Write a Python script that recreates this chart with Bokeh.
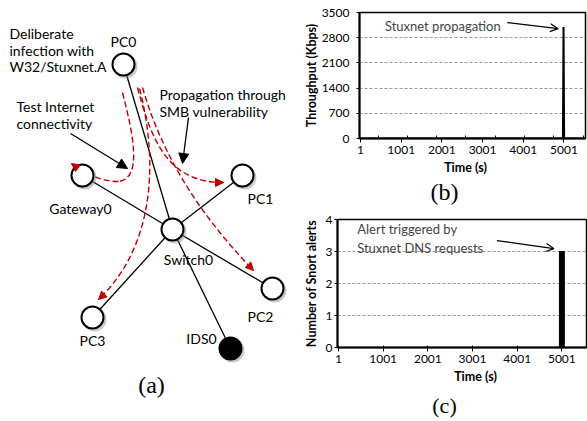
from bokeh.plotting import figure
from bokeh.layouts import row, column
from bokeh.models import Range1d, Label, Arrow, NormalHead, OpenHead, FixedTicker
from bokeh.core.properties import value
from bokeh.embed import file_html
from bokeh.resources import INLINE

FONT = "Lato"
SERIF = "Liberation Serif"
RED = "#C00000"

# ---------------- (a) network topology ----------------
node_names = ["PC0", "Gateway0", "PC1", "Switch0", "PC2", "PC3", "IDS0"]
node_x = [123, 82, 242, 172, 272, 92, 230]
node_y = [64, 175, 175, 229, 288, 317, 348]
node_fill = ["white", "white", "white", "white", "white", "white", "black"]
edges = [("Switch0", "PC0"), ("Switch0", "Gateway0"), ("Switch0", "PC1"),
         ("Switch0", "PC2"), ("Switch0", "PC3"), ("Switch0", "IDS0")]

label_x = [123, 80, 260, 188, 260, 92, 201]
label_y = [41, 208, 198, 259, 316, 340, 338]

# infection paths (cubic bezier: start, control1, control2, end)
path_names = ["to PC1", "to PC2", "to PC3", "to Gateway0 (part 1)"]
path_x0 = [137, 142, 139, 122]
path_y0 = [87, 87, 88, 92]
path_cx0 = [152, 160, 160, 133]
path_cy0 = [145, 150, 170, 135]
path_cx1 = [170, 195, 150, 142]
path_cy1 = [182, 210, 250, 178]
path_x1 = [223, 253, 98, 118]
path_y1 = [182, 270, 299, 181]
# gateway path tail (quadratic)
gw_x0, gw_y0, gw_cx, gw_cy, gw_x1, gw_y1 = 118, 181, 95, 181, 71, 163

notes_a = [
    (["Deliberate", "infection with", "W32/Stuxnet.A"], 9, 33),
    (["Test Internet", "connectivity"], 16, 106),
    (["Propagation through", "SMB vulnerability"], 159, 94),
]
note_arrows = [((70, 133), (127, 168)), ((188, 117), (182, 163))]

# ---------------- (b) throughput ----------------
time_b = [1, 4975, 4990, 5005, 5530]
throughput_kbps = [0, 0, 3100, 0, 0]
b_ticks = [1, 1001, 2001, 3001, 4001, 5001]
b_minor = [432, 1152, 1872, 2592, 3312, 4032, 4752, 5472]
b_yticks = [0, 700, 1400, 2100, 2800, 3500]

# ---------------- (c) snort alerts ----------------
time_c = [5001]
snort_alerts = [3]
c_ticks = [1, 1001, 2001, 3001, 4001, 5001]
c_yticks = [0, 1, 2, 3, 4]

# ======== figure (a) ========
pa = figure(width=300, height=421, x_range=Range1d(0, 300), y_range=Range1d(421, 0),
            output_backend="svg", toolbar_location=None,
            x_axis_location=None, y_axis_location=None,
            min_border_left=0, min_border_right=0, min_border_top=0, min_border_bottom=0)
pa.grid.visible = False
pa.outline_line_color = None
pa.frame_align = False

idx = {n: i for i, n in enumerate(node_names)}
pa.segment(x0=[node_x[idx[a]] for a, b in edges], y0=[node_y[idx[a]] for a, b in edges],
           x1=[node_x[idx[b]] for a, b in edges], y1=[node_y[idx[b]] for a, b in edges],
           line_color="black", line_width=1.3)

pa.bezier(x0=path_x0, y0=path_y0, x1=path_x1, y1=path_y1,
          cx0=path_cx0, cy0=path_cy0, cx1=path_cx1, cy1=path_cy1,
          line_color=RED, line_width=1.4, line_dash="6 3")
pa.quadratic(x0=[gw_x0], y0=[gw_y0], x1=[gw_x1], y1=[gw_y1], cx=[gw_cx], cy=[gw_cy],
             line_color=RED, line_width=1.4, line_dash="6 3")
for i in range(3):
    dx = path_x1[i] - path_cx1[i]
    dy = path_y1[i] - path_cy1[i]
    n = (dx * dx + dy * dy) ** 0.5
    pa.add_layout(Arrow(end=NormalHead(size=8, fill_color=RED, line_color=RED),
                        x_start=path_x1[i] - dx / n * 6, y_start=path_y1[i] - dy / n * 6,
                        x_end=path_x1[i], y_end=path_y1[i], line_alpha=0))
dx, dy = gw_x1 - gw_cx, gw_y1 - gw_cy
n = (dx * dx + dy * dy) ** 0.5
pa.add_layout(Arrow(end=NormalHead(size=8, fill_color=RED, line_color=RED),
                    x_start=gw_x1 - dx / n * 6, y_start=gw_y1 - dy / n * 6,
                    x_end=gw_x1, y_end=gw_y1, line_alpha=0))

pa.scatter([x + 2 for x in node_x], [y + 2 for y in node_y], size=24, marker="circle",
           fill_color="#888888", fill_alpha=0.45, line_alpha=0)
pa.scatter(node_x, node_y, size=22, marker="circle", fill_color=node_fill,
           line_color="black", line_width=2)

pa.text(x=label_x, y=label_y, text=node_names, text_font=value(FONT), text_font_size="14px",
        text_align="center", text_baseline="middle", text_color="black")

for lines, lx, ly in notes_a:
    pa.text(x=[lx] * len(lines), y=[ly + 16.5 * k for k in range(len(lines))], text=lines,
            text_font=value(FONT), text_font_size="14px", text_align="left",
            text_baseline="middle", text_color="black")

for (sx, sy), (ex, ey) in note_arrows:
    pa.add_layout(Arrow(end=NormalHead(size=10, fill_color="black", line_color="black"),
                        x_start=sx, y_start=sy, x_end=ex, y_end=ey,
                        line_color="black", line_width=1.3))

pa.text(x=[151], y=[384], text=["(a)"], text_font=value(SERIF), text_font_size="24px",
        text_align="center", text_baseline="middle")


def style_axes(p):
    for ax in p.axis:
        ax.axis_line_width = 2
        ax.axis_line_color = "black"
        ax.major_label_text_font = FONT
        ax.major_label_text_font_size = "12px"
        ax.major_label_text_color = "black"
        ax.axis_label_text_font = FONT
        ax.axis_label_text_font_style = "bold"
        ax.axis_label_text_font_size = "12.5px"
        ax.axis_label_text_color = "black"
        ax.major_tick_line_color = "black"
        ax.minor_tick_line_color = "black"
    p.outline_line_color = "black"
    p.outline_line_width = 1.5
    p.xgrid.visible = False
    p.ygrid.grid_line_color = "#9a9a9a"
    p.ygrid.grid_line_dash = "3 2"
    p.ygrid.grid_line_width = 1
    p.frame_align = False


def caption_fig(h, texts):
    f = figure(width=287, height=h, x_range=Range1d(0, 287), y_range=Range1d(h, 0),
               output_backend="svg", toolbar_location=None,
               x_axis_location=None, y_axis_location=None,
               min_border_left=0, min_border_right=0, min_border_top=0, min_border_bottom=0)
    f.grid.visible = False
    f.outline_line_color = None
    f.frame_align = False
    for t, x, y, font, size, style in texts:
        f.text(x=[x], y=[y], text=[t], text_font=value(font), text_font_size=size,
               text_font_style=style, text_align="center", text_baseline="middle",
               text_color="black")
    return f


# ======== figure (b) ========
pb = figure(width=287, height=161, x_range=Range1d(-23, 5530), y_range=Range1d(0, 3500),
            output_backend="svg", toolbar_location=None,
            min_border_left=54, min_border_right=2, min_border_top=12, min_border_bottom=23)
style_axes(pb)
pb.xaxis.ticker = FixedTicker(ticks=b_ticks, minor_ticks=b_minor)
pb.xaxis.major_label_overrides = {t: str(t) for t in b_ticks}
pb.xaxis.major_tick_in = 0
pb.xaxis.major_tick_out = 4
pb.xaxis.minor_tick_in = 3
pb.xaxis.minor_tick_out = 0
pb.xaxis.major_label_standoff = 3
pb.yaxis.ticker = FixedTicker(ticks=b_yticks)
pb.yaxis.major_tick_in = 0
pb.yaxis.major_tick_out = 3
pb.yaxis.minor_tick_line_color = None
pb.yaxis.major_label_standoff = 7
pb.yaxis.axis_label = "Throughput (Kbps)"
pb.yaxis.axis_label_standoff = 0
pb.ygrid.ticker = FixedTicker(ticks=b_yticks[1:-1])
pb.line(time_b, throughput_kbps, line_color="black", line_width=2)

pb.add_layout(Label(x=601, y=3136, text="Stuxnet propagation", text_font=FONT,
                    text_font_size="13px", text_baseline="middle"))
pb.add_layout(Arrow(end=OpenHead(size=8, line_color="black", line_width=1.2),
                    x_start=3607, y_start=3220, x_end=4857, y_end=3052,
                    line_color="black", line_width=1.3))

capb = caption_fig(49, [("Time (s)", 165, 6, FONT, "12.5px", "bold"),
                        ("(b)", 144, 30, SERIF, "24px", "normal")])

# ======== figure (c) ========
pc = figure(width=287, height=159, x_range=Range1d(-21, 5552), y_range=Range1d(0, 4),
            output_backend="svg", toolbar_location=None,
            min_border_left=33, min_border_right=1, min_border_top=9, min_border_bottom=22)
style_axes(pc)
pc.xaxis.ticker = FixedTicker(ticks=c_ticks)
pc.xaxis.major_label_overrides = {t: str(t) for t in c_ticks}
pc.xaxis.major_tick_in = 2
pc.xaxis.major_tick_out = 4
pc.xaxis.minor_tick_line_color = None
pc.xaxis.major_label_standoff = 3
pc.yaxis.ticker = FixedTicker(ticks=c_yticks)
pc.yaxis.major_tick_in = 0
pc.yaxis.major_tick_out = 3
pc.yaxis.minor_tick_line_color = None
pc.yaxis.major_label_standoff = 2
pc.yaxis.axis_label = "Number of Snort alerts"
pc.yaxis.axis_label_standoff = 4
pc.ygrid.ticker = FixedTicker(ticks=c_yticks[1:-1])
pc.vbar(x=time_c, top=snort_alerts, width=110, fill_color="black", line_color="black")

pc.add_layout(Label(x=420, y=3.69, text="Alert triggered by", text_font=FONT,
                    text_font_size="13px", text_baseline="middle"))
pc.add_layout(Label(x=420, y=3.125, text="Stuxnet DNS requests", text_font=FONT,
                    text_font_size="13px", text_baseline="middle"))
pc.add_layout(Arrow(end=OpenHead(size=8, line_color="black", line_width=1.2),
                    x_start=3547, y_start=3.34, x_end=4825, y_end=3.09,
                    line_color="black", line_width=1.3))

capc = caption_fig(52, [("Time (s)", 175, 7, FONT, "12.5px", "bold"),
                        ("(c)", 144, 36, SERIF, "22px", "normal")])

layout = row(pa, column(pb, capb, pc, capc))
open("out.html", "w").write(file_html(layout, INLINE))
